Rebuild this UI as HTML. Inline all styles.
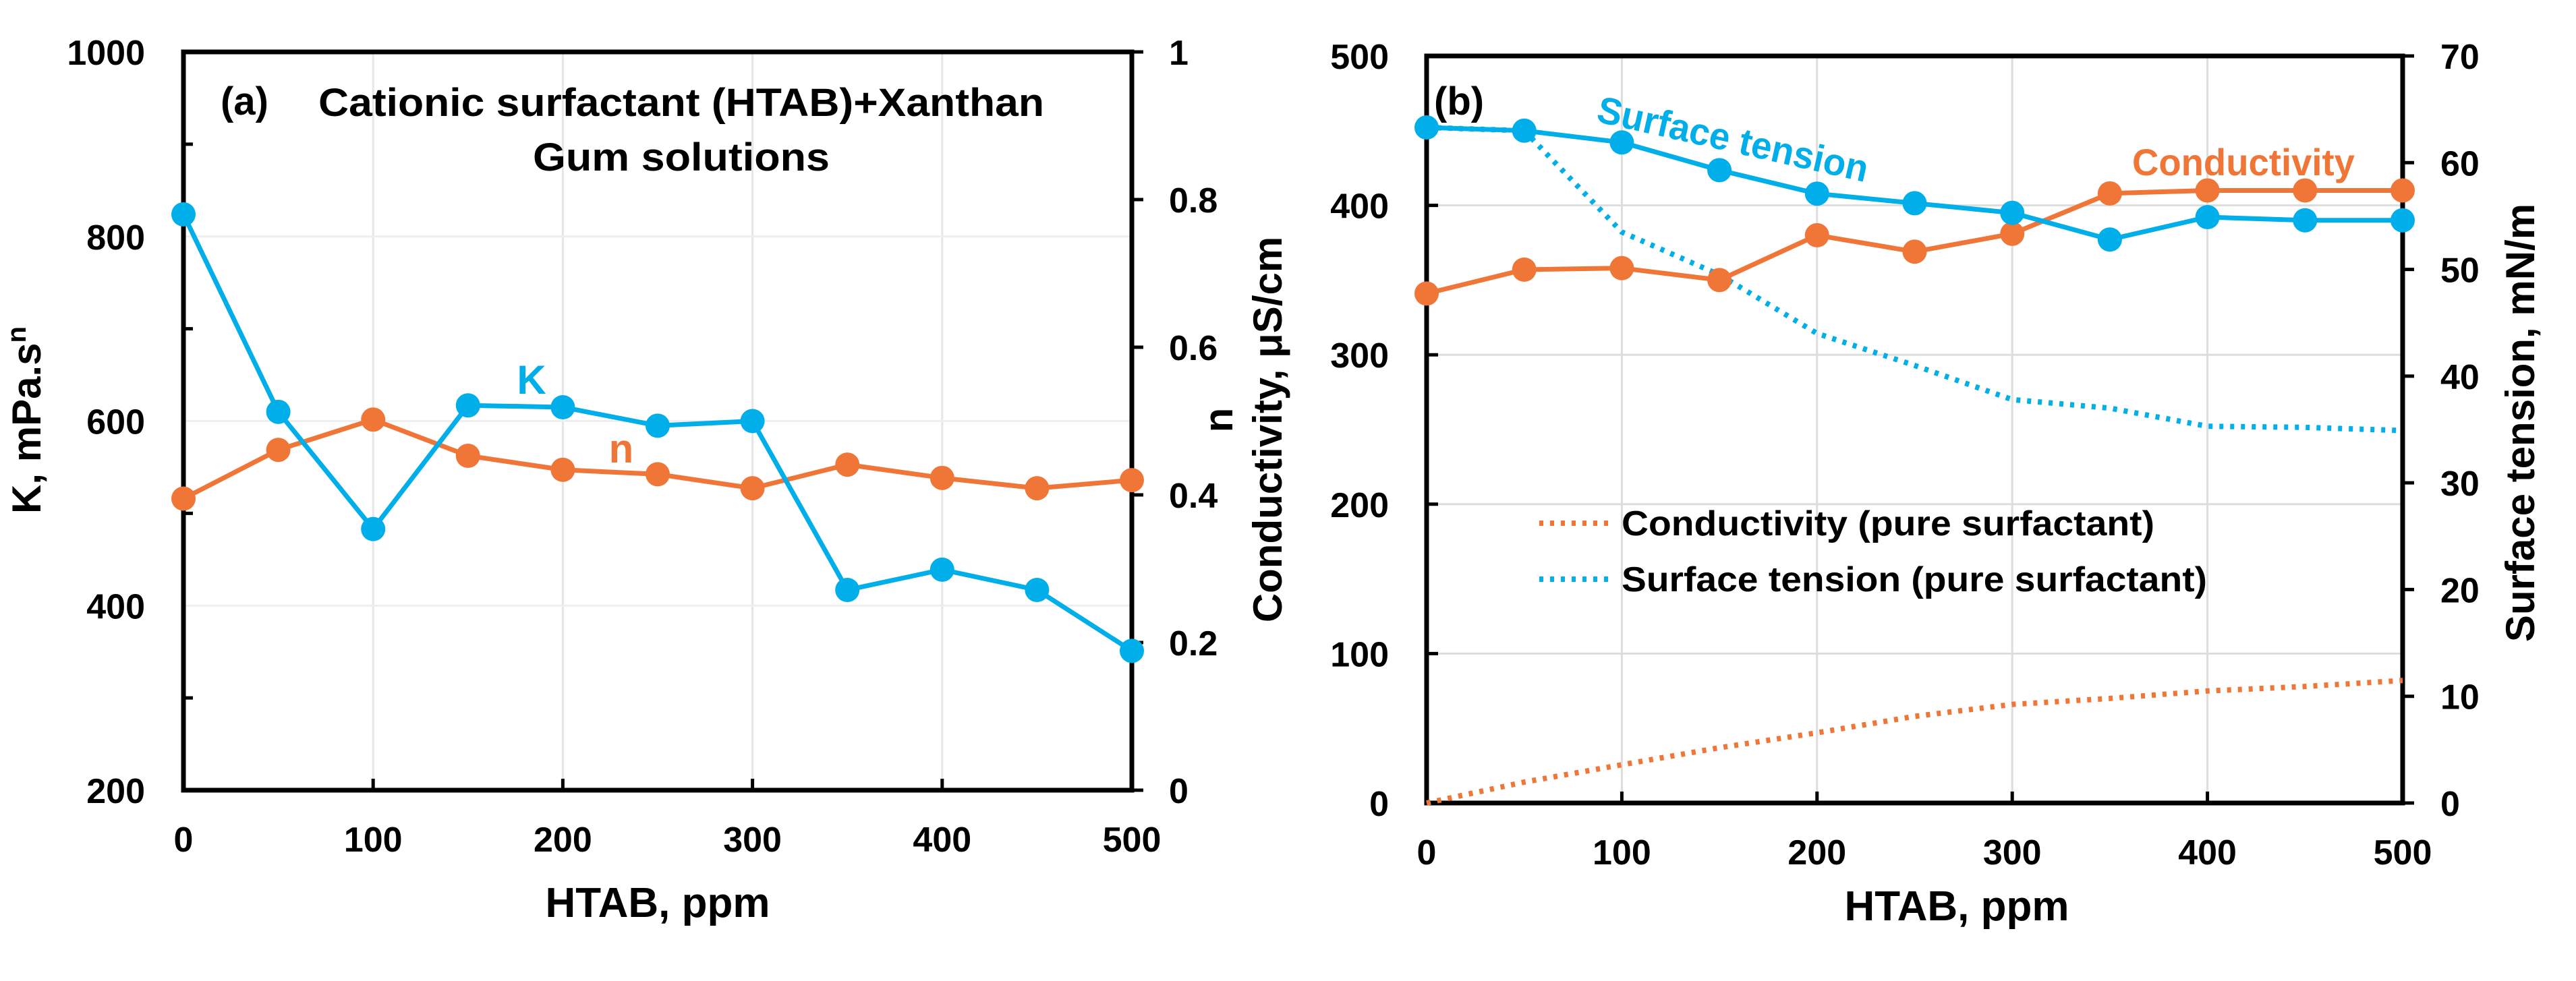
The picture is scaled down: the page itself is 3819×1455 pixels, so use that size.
<!DOCTYPE html>
<html><head><meta charset="utf-8"><style>
html,body{margin:0;padding:0;background:#fff;}
svg{display:block;font-family:"Liberation Sans",Arial,sans-serif;font-weight:bold;}
</style></head><body>
<svg id="fig" width="3819" height="1455" viewBox="0 0 3819 1455" xmlns="http://www.w3.org/2000/svg">
<rect width="3819" height="1455" fill="#fff"/>
<g id="pa"></g>
<g id="pb"></g>
</svg>
<script>
// ---------- data ----------
const htab = [0,50,100,150,200,250,300,350,400,450,500];
const kValues = [824,610,483,617,615,595,600,417,439,417,351];
const nValues = [0.395,0.461,0.502,0.453,0.434,0.428,0.409,0.441,0.423,0.409,0.42];
const conductivity = [341,357,358,350,380,369,381,408,410,410,410];
const surfTension = [63.3,63.0,61.9,59.3,57.1,56.2,55.3,52.8,54.9,54.6,54.6];
const pureConductivity = [0,14,25.6,37,47,58,66,70,75,78,82];
const pureSurfTension = [63.3,63.0,53.5,49.5,44.0,41.0,37.8,37.0,35.3,35.2,34.9];
const xTicks = [0,100,200,300,400,500];
const kTicks = [200,400,600,800,1000];
const nTicks = [0,0.2,0.4,0.6,0.8,1];
const condTicks = [0,100,200,300,400,500];
const stTicks = [0,10,20,30,40,50,60,70];

const NS = "http://www.w3.org/2000/svg";
const BLUE = "#00AEEA", ORANGE = "#F07638";
function mk(parent, tag, attrs, text){
  const e = document.createElementNS(NS, tag);
  for (const k in attrs) e.setAttribute(k, attrs[k]);
  if (text !== undefined) e.textContent = text;
  parent.appendChild(e); return e;
}
function lin(d0,d1,r0,r1){ return v => r0 + (v-d0)/(d1-d0)*(r1-r0); }

// ---------- panel A ----------
const pa = document.getElementById('pa');
const ax = lin(0,500,272,1678), ayK = lin(200,1000,1172,77), ayN = lin(0,1,1172,77);
xTicks.forEach(t=>{
  const g = mk(pa,'line',{x1:ax(t),x2:ax(t),y1:77,y2:1172,stroke:'#e6e6e6','stroke-width':3});
  
  
});
kTicks.forEach(t=>{
  const g = mk(pa,'line',{x1:272,x2:1678,y1:ayK(t),y2:ayK(t),stroke:'#eeeeee','stroke-width':3});
  
  
});
// frame
const fa = mk(pa,'rect',{x:272,y:77,width:1406,height:1095,fill:'none',stroke:'#000','stroke-width':7});


[300,500,700,900].forEach(t=>mk(pa,'line',{x1:272,x2:286,y1:ayK(t),y2:ayK(t),stroke:'#000','stroke-width':5}));
xTicks.forEach(t=>{
  mk(pa,'line',{x1:ax(t),x2:ax(t),y1:1172,y2:1155,stroke:'#000','stroke-width':5});
  const l = mk(pa,'text',{x:ax(t),y:1263,'font-size':52,'text-anchor':'middle'},t);
  
  
});
kTicks.forEach(t=>{
  const l = mk(pa,'text',{x:215,y:ayK(t)+19,'font-size':52,'text-anchor':'end'},t);
  
  
});
nTicks.forEach(t=>{
  mk(pa,'line',{x1:1678,x2:1695,y1:ayN(t),y2:ayN(t),stroke:'#000','stroke-width':5});
  const l = mk(pa,'text',{x:1733,y:ayN(t)+19,'font-size':52},t);
  
  
});
function series(parent, xs, ys, xf, yf, color, name, markers){
  const pts = xs.map((x,i)=>xf(x)+','+yf(ys[i])).join(' ');
  const pl = mk(parent,'polyline',{points:pts,fill:'none',stroke:color,'stroke-width':7,'stroke-linejoin':'round'});
  
  
  if (markers) xs.forEach((x,i)=>{
    const c = mk(parent,'circle',{cx:xf(x),cy:yf(ys[i]),r:18,fill:color});
    
    
  });
}
function dotted(parent, xs, ys, xf, yf, color, name){
  const pts = xs.map((x,i)=>xf(x)+','+yf(ys[i])).join(' ');
  const pl = mk(parent,'polyline',{points:pts,fill:'none',stroke:color,'stroke-width':8,'stroke-dasharray':'6 10','stroke-linejoin':'round'});
  
  
}
series(pa, htab, nValues, ax, ayN, ORANGE, 'n-series', true);
series(pa, htab, kValues, ax, ayK, BLUE, 'k-series', true);
let t;
t = mk(pa,'text',{x:327,y:170,'font-size':58},'(a)');
 
t = mk(pa,'text',{x:1010,y:172,'font-size':58,'text-anchor':'middle',textLength:1076,lengthAdjust:'spacingAndGlyphs'},'Cationic surfactant (HTAB)+Xanthan');
 
t = mk(pa,'text',{x:1010,y:253,'font-size':58,'text-anchor':'middle',textLength:440,lengthAdjust:'spacingAndGlyphs'},'Gum solutions');
 
t = mk(pa,'text',{x:788,y:584,'font-size':60,'text-anchor':'middle',fill:BLUE},'K');
 
t = mk(pa,'text',{x:921,y:686,'font-size':60,'text-anchor':'middle',fill:ORANGE},'n');
 
t = mk(pa,'text',{x:975,y:1360,'font-size':62,'text-anchor':'middle'},'HTAB, ppm');
 
t = mk(pa,'text',{transform:'translate(60,623) rotate(-90)','font-size':60,'text-anchor':'middle'});
 
t.innerHTML = 'K, mPa.s<tspan dy="-22" font-size="40">n</tspan>';
t = mk(pa,'text',{transform:'translate(1827,623) rotate(-90)','font-size':60,'text-anchor':'middle'},'n');
 

// ---------- panel B ----------
const pb = document.getElementById('pb');
const bx = lin(0,500,2115,3562), byC = lin(0,500,1191,83), byS = lin(0,70,1191,83);
xTicks.forEach(v=>{
  const g = mk(pb,'line',{x1:bx(v),x2:bx(v),y1:83,y2:1191,stroke:'#dddddd','stroke-width':3});
  
  
});
condTicks.forEach(v=>{
  const g = mk(pb,'line',{x1:2115,x2:3562,y1:byC(v),y2:byC(v),stroke:'#dddddd','stroke-width':3});
  
  
});
const fb = mk(pb,'rect',{x:2115,y:83,width:1447,height:1108,fill:'none',stroke:'#000','stroke-width':7});


xTicks.forEach(v=>{
  mk(pb,'line',{x1:bx(v),x2:bx(v),y1:1191,y2:1174,stroke:'#000','stroke-width':5});
  const l = mk(pb,'text',{x:bx(v),y:1282,'font-size':52,'text-anchor':'middle'},v);
  
  
});
condTicks.forEach(v=>{
  mk(pb,'line',{x1:2115,x2:2132,y1:byC(v),y2:byC(v),stroke:'#000','stroke-width':5});
  const l = mk(pb,'text',{x:2059,y:byC(v)+19,'font-size':52,'text-anchor':'end'},v);
  
  
});
stTicks.forEach(v=>{
  mk(pb,'line',{x1:3562,x2:3579,y1:byS(v),y2:byS(v),stroke:'#000','stroke-width':5});
  const l = mk(pb,'text',{x:3618,y:byS(v)+19,'font-size':52},v);
  
  
});
dotted(pb, htab, pureConductivity, bx, byC, ORANGE, 'pure-conductivity-line');
dotted(pb, htab, pureSurfTension, bx, byS, BLUE, 'pure-surface-tension-line');
series(pb, htab, conductivity, bx, byC, ORANGE, 'conductivity-series', true);
series(pb, htab, surfTension, bx, byS, BLUE, 'surface-tension-series', true);
t = mk(pb,'text',{x:2126,y:170,'font-size':58},'(b)');
 
t = mk(pb,'text',{transform:'translate(2365,180) rotate(12.7)','font-size':56,fill:BLUE,textLength:410,lengthAdjust:'spacingAndGlyphs'},'Surface tension');
 
t = mk(pb,'text',{x:3161,y:260,'font-size':56,fill:ORANGE,textLength:330,lengthAdjust:'spacingAndGlyphs'},'Conductivity');
 
// legend
let lg = mk(pb,'g',{});


mk(lg,'line',{x1:2282,x2:2390,y1:776,y2:776,stroke:ORANGE,'stroke-width':8,'stroke-dasharray':'6 10'});
mk(lg,'line',{x1:2282,x2:2390,y1:859,y2:859,stroke:BLUE,'stroke-width':8,'stroke-dasharray':'6 10'});
t = mk(lg,'text',{x:2404,y:794,'font-size':52,textLength:790,lengthAdjust:'spacingAndGlyphs'},'Conductivity (pure surfactant)');
 
t = mk(lg,'text',{x:2404,y:877,'font-size':52,textLength:868,lengthAdjust:'spacingAndGlyphs'},'Surface tension (pure surfactant)');
 
t = mk(pb,'text',{x:2901,y:1365,'font-size':62,'text-anchor':'middle'},'HTAB, ppm');
 
t = mk(pb,'text',{transform:'translate(1900,637) rotate(-90)','font-size':60,'text-anchor':'middle'},'Conductivity, μS/cm');
 
t = mk(pb,'text',{transform:'translate(3757,627) rotate(-90)','font-size':60,'text-anchor':'middle'},'Surface tension, mN/m');
 
</script>
</body></html>
